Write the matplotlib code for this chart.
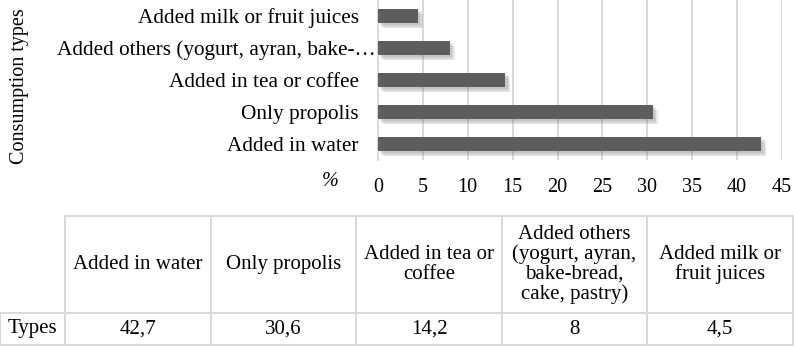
import matplotlib.pyplot as plt
import matplotlib.patheffects as pe
from matplotlib.table import Table

plt.rcParams['font.family'] = ['Liberation Serif', 'DejaVu Serif']

types = ["Added in water", "Only propolis", "Added in tea or coffee",
         "Added others (yogurt, ayran, bake-bread, cake, pastry)",
         "Added milk or fruit juices"]
percent = [42.7, 30.6, 14.2, 8, 4.5]
axis_labels = ["Added in water", "Only propolis", "Added in tea or coffee",
               "Added others (yogurt, ayran, bake-\u2026",
               "Added milk or fruit juices"]
table_headers = ["Added in water", "Only propolis", "Added in tea or\ncoffee",
                 "Added others\n(yogurt, ayran,\nbake-bread,\ncake, pastry)",
                 "Added milk or\nfruit juices"]
row_label = "Types"
xticks = [0, 5, 10, 15, 20, 25, 30, 35, 40, 45]

W, H = 794, 346
fig = plt.figure(figsize=(W / 100, H / 100), dpi=100)

# bar chart
ax = fig.add_axes([378 / W, 1 - 160 / H, 404 / W, 160 / H])
bars = ax.barh(range(len(percent)), percent, height=0.44, color='#5e5e5e', zorder=3)
# soft drop shadow built from a few stacked offsets
shadow = [pe.SimplePatchShadow(offset=(k, -k), shadow_rgbFace='#808080', alpha=0.18)
          for k in (3.5, 2.5, 1.5)]
for b in bars:
    b.set_path_effects(shadow + [pe.Normal()])
ax.set_xlim(0, 45)
ax.set_ylim(-0.5, len(percent) - 0.5)
ax.set_xticks(xticks)
ax.set_yticks(range(len(percent)))
ax.set_yticklabels(axis_labels)
ax.tick_params(axis='x', length=0, pad=13, labelsize=14.5)
ax.tick_params(axis='y', length=0, pad=14, labelsize=15.3)
# the truncated label runs its ellipsis up to the axis line
ax.yaxis.get_major_ticks()[3].label1.set_x(17 / 404)
ax.grid(axis='x', color='#d9d9d9', linewidth=1.4, zorder=0)
for s in ['top', 'right', 'bottom']:
    ax.spines[s].set_visible(False)
ax.spines['left'].set_color('#d9d9d9')
ax.spines['left'].set_linewidth(1.4)

ax.set_xlabel('%', fontsize=14.5, fontstyle='italic')
ax.xaxis.set_label_coords((330 - 378) / 404, (160 - 181) / 160)
ax.xaxis.label.set_va('center')
ax.set_ylabel('Consumption types', fontsize=14.5)
ax.yaxis.set_label_coords((20 - 378) / 404, (160 - 86) / 160)
ax.yaxis.label.set_va('center')

# data table below the chart
tax = fig.add_axes([0, 0, 1, 1])
tax.set_axis_off()
col_w = 145.6 / W
label_w = 65 / W
head_h = 97 / H
row_h = 32 / H
tbl = Table(tax, bbox=[0, 1 - 345 / H, 793 / W, (345 - 216) / H])
for j, head in enumerate(table_headers, start=1):
    tbl.add_cell(0, j, width=col_w, height=head_h, text=head, loc='center',
                 edgecolor='#d9d9d9', facecolor='white')
    tbl.add_cell(1, j, width=col_w, height=row_h,
                 text='{:g}'.format(percent[j - 1]).replace('.', ','),
                 loc='center', edgecolor='#d9d9d9', facecolor='white')
tbl.add_cell(1, 0, width=label_w, height=row_h, text=row_label, loc='center',
             edgecolor='#d9d9d9', facecolor='white')
tbl.auto_set_font_size(False)
tbl.set_fontsize(15)
for cell in tbl.get_celld().values():
    cell.set_linewidth(1.4)
    cell.get_text().set_linespacing(1.05)
tax.add_table(tbl)

fig.savefig('out.png', dpi=100)
